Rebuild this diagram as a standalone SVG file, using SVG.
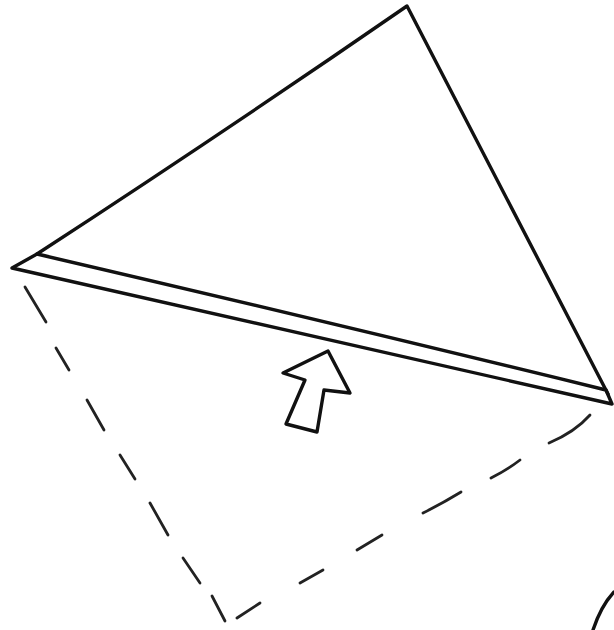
<svg xmlns="http://www.w3.org/2000/svg" width="614" height="630" viewBox="0 0 614 630">
<style>
.ink{fill:none;stroke:#111;stroke-width:3.4;stroke-linecap:round;stroke-linejoin:round}
.dash{fill:none;stroke:#222;stroke-width:2.8;stroke-linecap:round}
</style>
<rect width="614" height="630" fill="#fff"/>
<g id="triangle">
<path class="ink" d="M37,254 Q220,135 407,6 Q505,195 608,394"/>
</g>
<g id="strip">
<path class="ink" d="M37,254 Q320,320 606,390 L612,404 Q310,336 12,268 Z"/>
</g>
<g id="arrow">
<path class="ink" d="M328,351 L350,393 L324,390 L317,432 L286,424 L305,380 L283,373 Z" fill="#fff"/>
</g>
<g id="dashed-outline">
<line class="dash" x1="25" y1="287" x2="46" y2="322"/>
<line class="dash" x1="56" y1="348" x2="69" y2="370"/>
<line class="dash" x1="87" y1="400" x2="104" y2="430"/>
<line class="dash" x1="120" y1="455" x2="135" y2="479"/>
<line class="dash" x1="150" y1="503" x2="168" y2="535"/>
<line class="dash" x1="183" y1="558" x2="200" y2="583"/>
<line class="dash" x1="212" y1="596" x2="225" y2="621"/>
<line class="dash" x1="237" y1="618" x2="260" y2="603"/>
<line class="dash" x1="300" y1="583" x2="323" y2="570"/>
<line class="dash" x1="357" y1="550" x2="382" y2="535"/>
<path class="dash" d="M423,513 Q443,503 461,492"/>
<path class="dash" d="M491,478 Q507,470 520,460"/>
<path class="dash" d="M549,443 Q575,432 590,415"/>
</g>
<g id="arc">
<path class="ink" d="M593,630 Q601,606 614,592"/>
</g>
</svg>
